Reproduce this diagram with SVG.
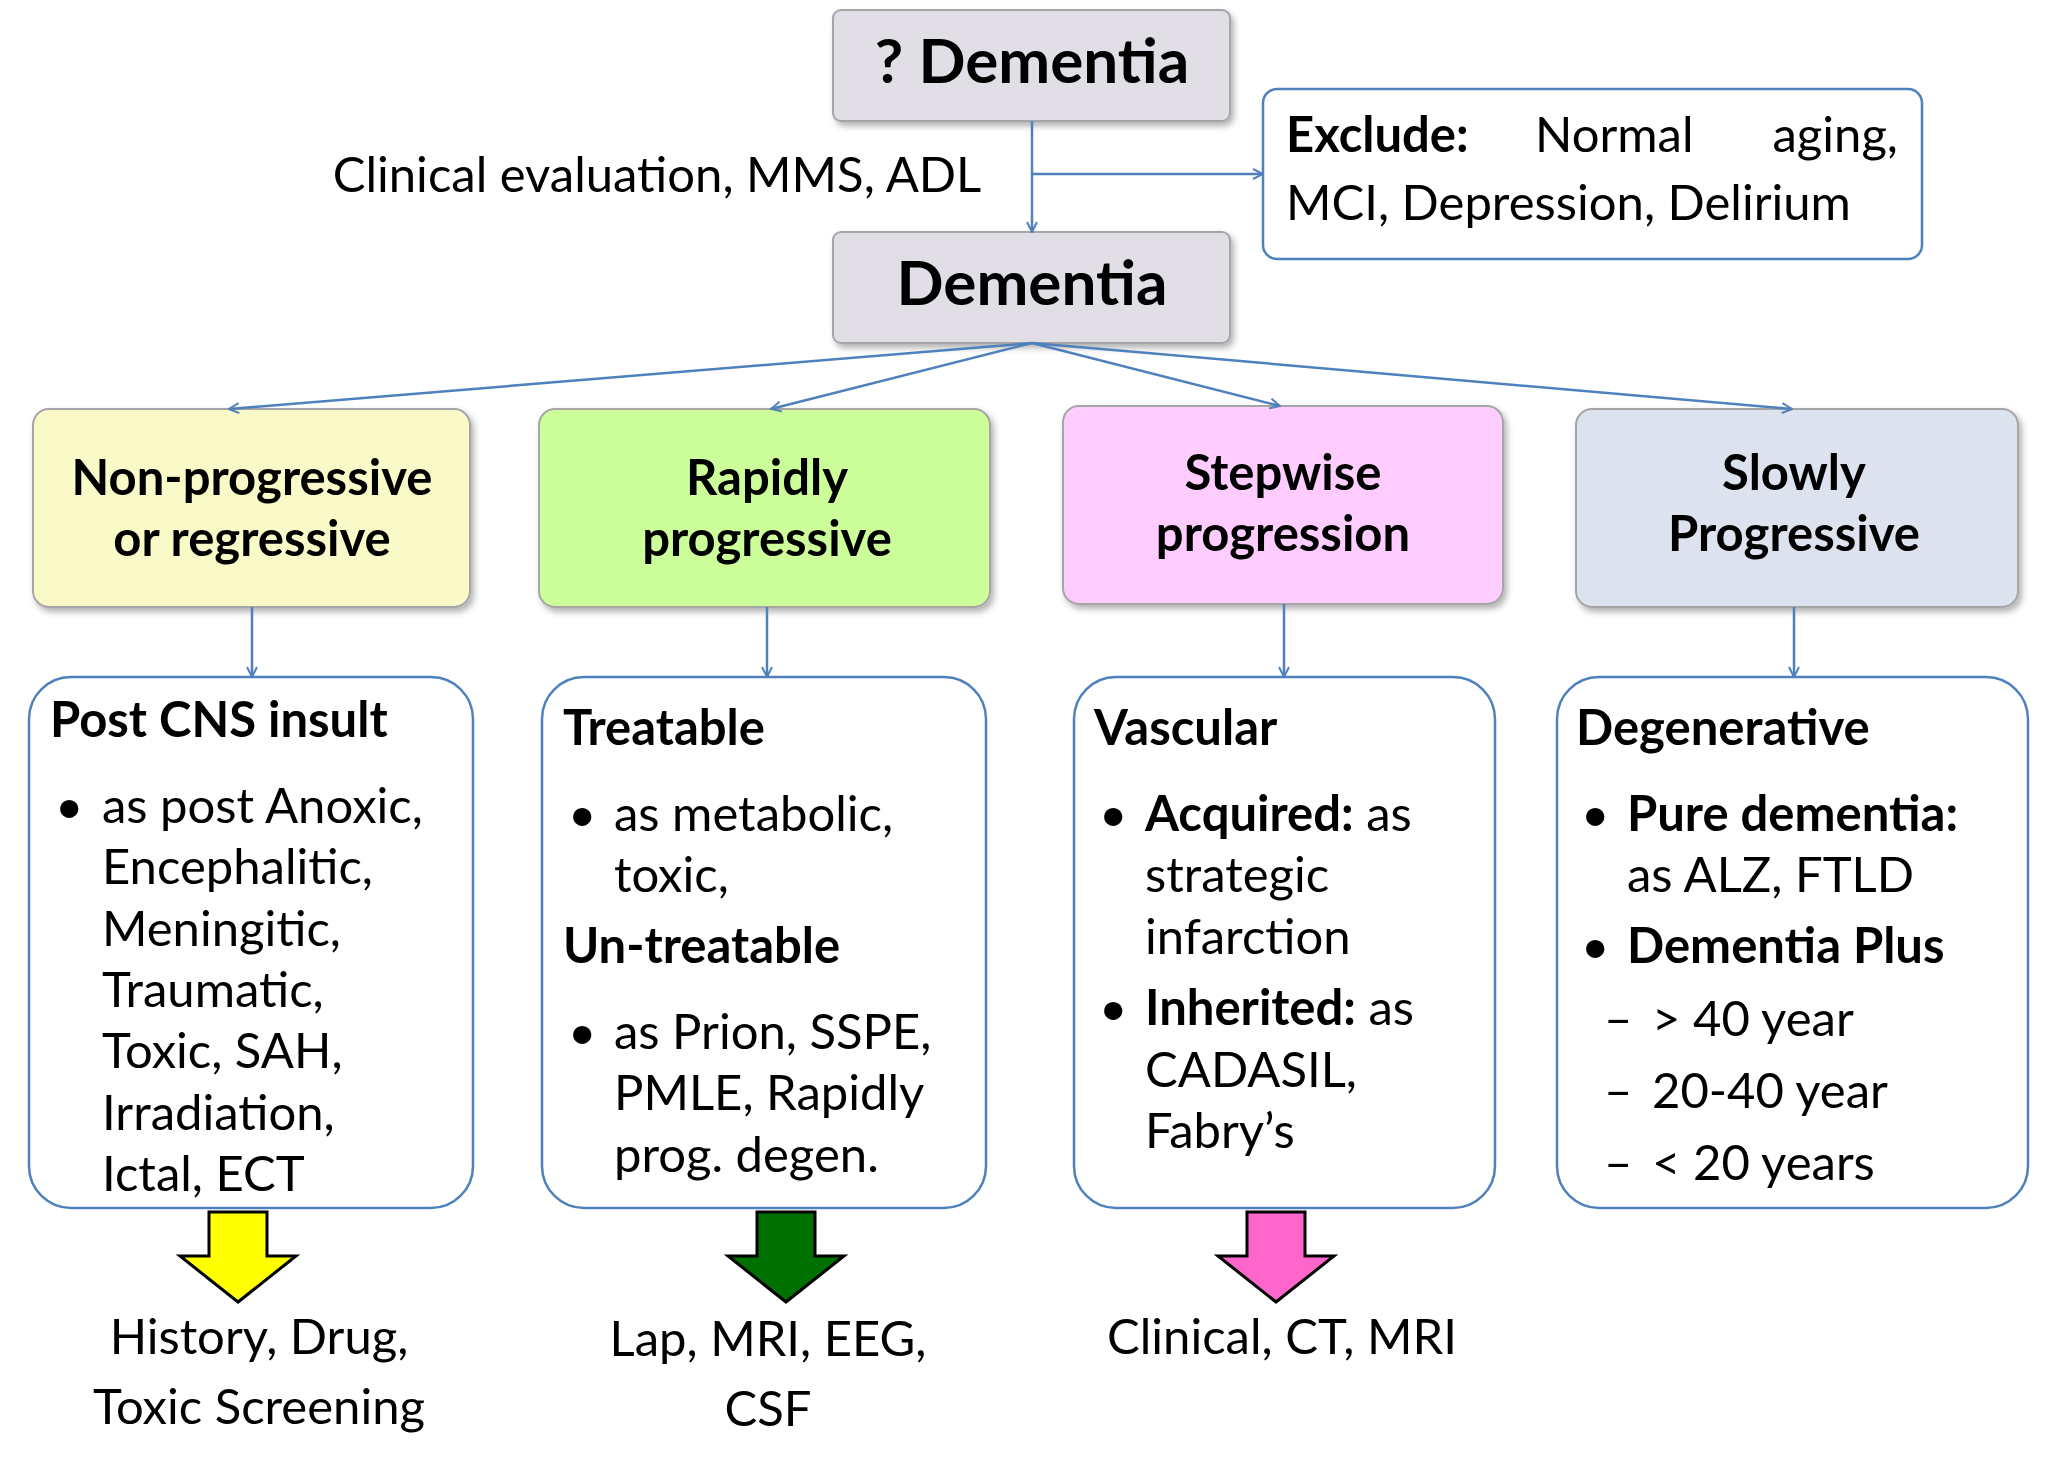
<svg xmlns="http://www.w3.org/2000/svg" width="2048" height="1461" viewBox="0 0 2048 1461">
<defs>
<marker id="ah" viewBox="0 0 12 12" refX="11" refY="6" markerWidth="12" markerHeight="12" markerUnits="userSpaceOnUse" orient="auto"><path d="M1,1 L11,6 L1,11" fill="none" stroke="#4f81bd" stroke-width="2"/></marker>
<filter id="sh" x="-10%" y="-10%" width="130%" height="130%"><feDropShadow dx="3" dy="4" stdDeviation="3" flood-color="#000" flood-opacity="0.3"/></filter>
</defs>
<style>
text{font-family:Lato,"Liberation Sans",sans-serif;fill:#000}
.t{font-size:49px}
.b{font-weight:bold}
.c{text-anchor:middle}
.gb{fill:#e1dee6;stroke:#a6a6a6;stroke-width:2}
.cat{stroke:#a6a6a6;stroke-width:2}
.lb{fill:#fff;stroke:#4f81bd;stroke-width:2.5}
.cn{stroke:#4f81bd;stroke-width:2.5;fill:none;marker-end:url(#ah)}
.ba{stroke:#000;stroke-width:3}
</style>
<rect width="2048" height="1461" fill="#fff"/>
<g id="q-dementia"><rect class="gb" x="833" y="10" width="397" height="111" rx="8" filter="url(#sh)"/><text class="b c" x="1032" y="83" font-size="62">? Dementia</text></g>
<g id="dementia"><rect class="gb" x="833" y="232" width="397" height="111" rx="8" filter="url(#sh)"/><text class="b c" x="1032" y="305" font-size="62">Dementia</text></g>
<g id="exclude"><rect x="1263" y="89" width="659" height="170" rx="14" fill="#fff" stroke="#4f81bd" stroke-width="2.5"/>
<text class="t b" x="1286" y="152">Exclude:</text><text class="t" x="1535" y="152">Normal</text><text class="t" x="1898" y="152" text-anchor="end">aging,</text>
<text class="t" x="1286" y="220">MCI, Depression, Delirium</text></g>
<g id="clin-label"><text class="t c" x="657" y="192">Clinical evaluation, MMS, ADL</text></g>
<g id="cat1"><rect class="cat" x="33" y="409" width="437" height="198" rx="16" fill="#fafac8" filter="url(#sh)"/><text class="t b c" x="252" y="495">Non-progressive</text><text class="t b c" x="252" y="556">or regressive</text></g>
<g id="cat2"><rect class="cat" x="539" y="409" width="451" height="198" rx="16" fill="#ccff99" filter="url(#sh)"/><text class="t b c" x="767" y="495">Rapidly</text><text class="t b c" x="767" y="556">progressive</text></g>
<g id="cat3"><rect class="cat" x="1063" y="406" width="440" height="198" rx="16" fill="#ffccff" filter="url(#sh)"/><text class="t b c" x="1283" y="490">Stepwise</text><text class="t b c" x="1283" y="551">progression</text></g>
<g id="cat4"><rect class="cat" x="1576" y="409" width="442" height="198" rx="16" fill="#dce3ee" filter="url(#sh)"/><text class="t b c" x="1794" y="490">Slowly</text><text class="t b c" x="1794" y="551">Progressive</text></g>
<g id="box1"><rect class="lb" x="29" y="677" width="444" height="531" rx="42"/>
<text class="t b" x="50" y="737">Post CNS insult</text>
<text class="t" x="55" y="823">•</text>
<text class="t" x="102" y="823">as post Anoxic,</text><text class="t" x="102" y="884">Encephalitic,</text><text class="t" x="102" y="946">Meningitic,</text><text class="t" x="102" y="1007">Traumatic,</text><text class="t" x="102" y="1068">Toxic, SAH,</text><text class="t" x="102" y="1130">Irradiation,</text><text class="t" x="102" y="1191">Ictal, ECT</text></g>
<g id="box2"><rect class="lb" x="542" y="677" width="444" height="531" rx="42"/>
<text class="t b" x="563" y="745">Treatable</text>
<text class="t" x="568" y="831">•</text><text class="t" x="614" y="831">as metabolic,</text><text class="t" x="614" y="892">toxic,</text>
<text class="t b" x="563" y="963">Un-treatable</text>
<text class="t" x="568" y="1049">•</text><text class="t" x="614" y="1049">as Prion, SSPE,</text><text class="t" x="614" y="1110">PMLE, Rapidly</text><text class="t" x="614" y="1172">prog. degen.</text></g>
<g id="box3"><rect class="lb" x="1074" y="677" width="421" height="531" rx="42"/>
<text class="t b" x="1094" y="745">Vascular</text>
<text class="t" x="1099" y="831">•</text><text class="t" x="1145" y="831"><tspan class="b">Acquired:</tspan> as</text><text class="t" x="1145" y="892">strategic</text><text class="t" x="1145" y="954">infarction</text>
<text class="t" x="1099" y="1025">•</text><text class="t" x="1145" y="1025"><tspan class="b">Inherited:</tspan> as</text><text class="t" x="1145" y="1087">CADASIL,</text><text class="t" x="1145" y="1148">Fabry’s</text></g>
<g id="box4"><rect class="lb" x="1557" y="677" width="471" height="531" rx="42"/>
<text class="t b" x="1576" y="745">Degenerative</text>
<text class="t" x="1581" y="831">•</text><text class="t b" x="1627" y="831">Pure dementia:</text><text class="t" x="1627" y="892">as ALZ, FTLD</text>
<text class="t" x="1581" y="963">•</text><text class="t b" x="1627" y="963">Dementia Plus</text>
<text class="t" x="1604" y="1036">–</text><text class="t" x="1652" y="1036">&gt; 40 year</text>
<text class="t" x="1604" y="1108">–</text><text class="t" x="1652" y="1108">20-40 year</text>
<text class="t" x="1604" y="1180">–</text><text class="t" x="1652" y="1180">&lt; 20 years</text></g>
<g id="arrow-yellow"><path class="ba" fill="#ffff00" d="M209,1212 H267 V1256 H296 L238,1302 L180,1256 H209 Z"/></g>
<g id="arrow-green"><path class="ba" fill="#007000" d="M757,1212 H815 V1256 H844 L786,1302 L728,1256 H757 Z"/></g>
<g id="arrow-pink"><path class="ba" fill="#ff66cc" d="M1247,1212 H1305 V1256 H1334 L1276,1302 L1218,1256 H1247 Z"/></g>
<g id="out1"><text class="t c" x="259" y="1354">History, Drug,</text><text class="t c" x="259" y="1424">Toxic Screening</text></g>
<g id="out2"><text class="t c" x="768" y="1356">Lap, MRI, EEG,</text><text class="t c" x="768" y="1426">CSF</text></g>
<g id="out3"><text class="t c" x="1282" y="1354">Clinical, CT, MRI</text></g>
<g id="connectors">
<path class="cn" d="M1032,121 V232"/>
<path class="cn" d="M1032,174 H1263"/>
<path class="cn" d="M1032,343 L229,409"/>
<path class="cn" d="M1032,343 L771,409"/>
<path class="cn" d="M1032,343 L1280,406"/>
<path class="cn" d="M1032,343 L1792,409"/>
<path class="cn" d="M252,607 V677"/>
<path class="cn" d="M767,607 V677"/>
<path class="cn" d="M1284,604 V677"/>
<path class="cn" d="M1794,607 V677"/>
</g>
</svg>
